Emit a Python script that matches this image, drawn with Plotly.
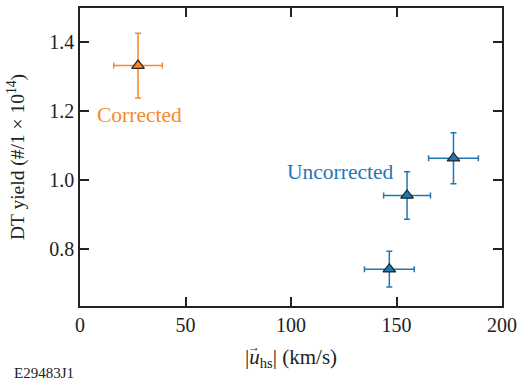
import plotly.graph_objects as go

corr_x = [27.5]
corr_y = [1.333]
corr_xerr = [11.5]
corr_yerr = [0.094]

unc_x = [146.6, 155.0, 177.0]
unc_y = [0.742, 0.956, 1.064]
unc_xerr = [11.8, 11.1, 11.8]
unc_yerr = [0.052, 0.069, 0.074]

x_ticks = [0, 50, 100, 150, 200]
y_ticks = [0.8, 1.0, 1.2, 1.4]
y_ticktext = ["0.8", "1.0", "1.2", "1.4"]

orange = "#f7892a"
blue = "#1f77b4"
font = "Liberation Serif, Times New Roman, serif"
dark = "#222"

fig = go.Figure()
fig.add_trace(go.Scatter(
    x=corr_x, y=corr_y, mode="markers",
    marker=dict(symbol="triangle-up", size=11, color=orange, line=dict(color=dark, width=1.2)),
    error_x=dict(type="data", array=corr_xerr, color=orange, thickness=1.5, width=3),
    error_y=dict(type="data", array=corr_yerr, color=orange, thickness=1.5, width=3),
    showlegend=False))
fig.add_trace(go.Scatter(
    x=unc_x, y=unc_y, mode="markers",
    marker=dict(symbol="triangle-up", size=11, color=blue, line=dict(color=dark, width=1.2)),
    error_x=dict(type="data", array=unc_xerr, color=blue, thickness=1.5, width=3),
    error_y=dict(type="data", array=unc_yerr, color=blue, thickness=1.5, width=3),
    showlegend=False))

fig.add_annotation(x=28.0, y=1.189, text="Corrected", showarrow=False,
                   font=dict(family=font, size=21.5, color=orange))
fig.add_annotation(x=123, y=1.024, text="Uncorrected", showarrow=False,
                   font=dict(family=font, size=21.5, color=blue))
fig.add_annotation(xref="paper", yref="paper", x=-0.161, y=-0.225, xanchor="left", yanchor="middle",
                   text="E29483J1", showarrow=False, font=dict(family=font, size=15, color=dark))
# x-axis title built from text pieces so the vector arrow can sit over the italic u
fig.add_annotation(xref="paper", yref="paper", x=0.5, y=-0.1745, xanchor="center", yanchor="middle",
                   text="|<i>u</i><sub>hs</sub>| (km/s)", showarrow=False,
                   font=dict(family=font, size=21, color=dark))
fig.add_annotation(xref="paper", yref="paper", x=0.413, y=-0.137, xanchor="center", yanchor="middle",
                   text="→", showarrow=False,
                   font=dict(family=font, size=12, color=dark))

axis_common = dict(showgrid=False, zeroline=False, ticks="inside", ticklen=9, tickwidth=2,
                   tickcolor=dark, showline=True, linecolor=dark, linewidth=1.5, automargin=False,
                   mirror="ticks", tickfont=dict(family=font, size=20, color=dark))
fig.update_xaxes(range=[0, 200], tickvals=x_ticks, **axis_common)
fig.update_yaxes(range=[0.635, 1.5], tickvals=y_ticks, ticktext=y_ticktext,
                 title=dict(text="DT yield (#/1 × 10<sup>14</sup>)", font=dict(family=font, size=19.5, color=dark), standoff=19),
                 **axis_common)
fig.update_layout(width=519, height=382, margin=dict(l=80, r=17, t=8, b=76),
                  plot_bgcolor="white", paper_bgcolor="white")
fig.write_html("out.html", config={"displayModeBar": False},
               post_script="document.body.style.margin='0';")
